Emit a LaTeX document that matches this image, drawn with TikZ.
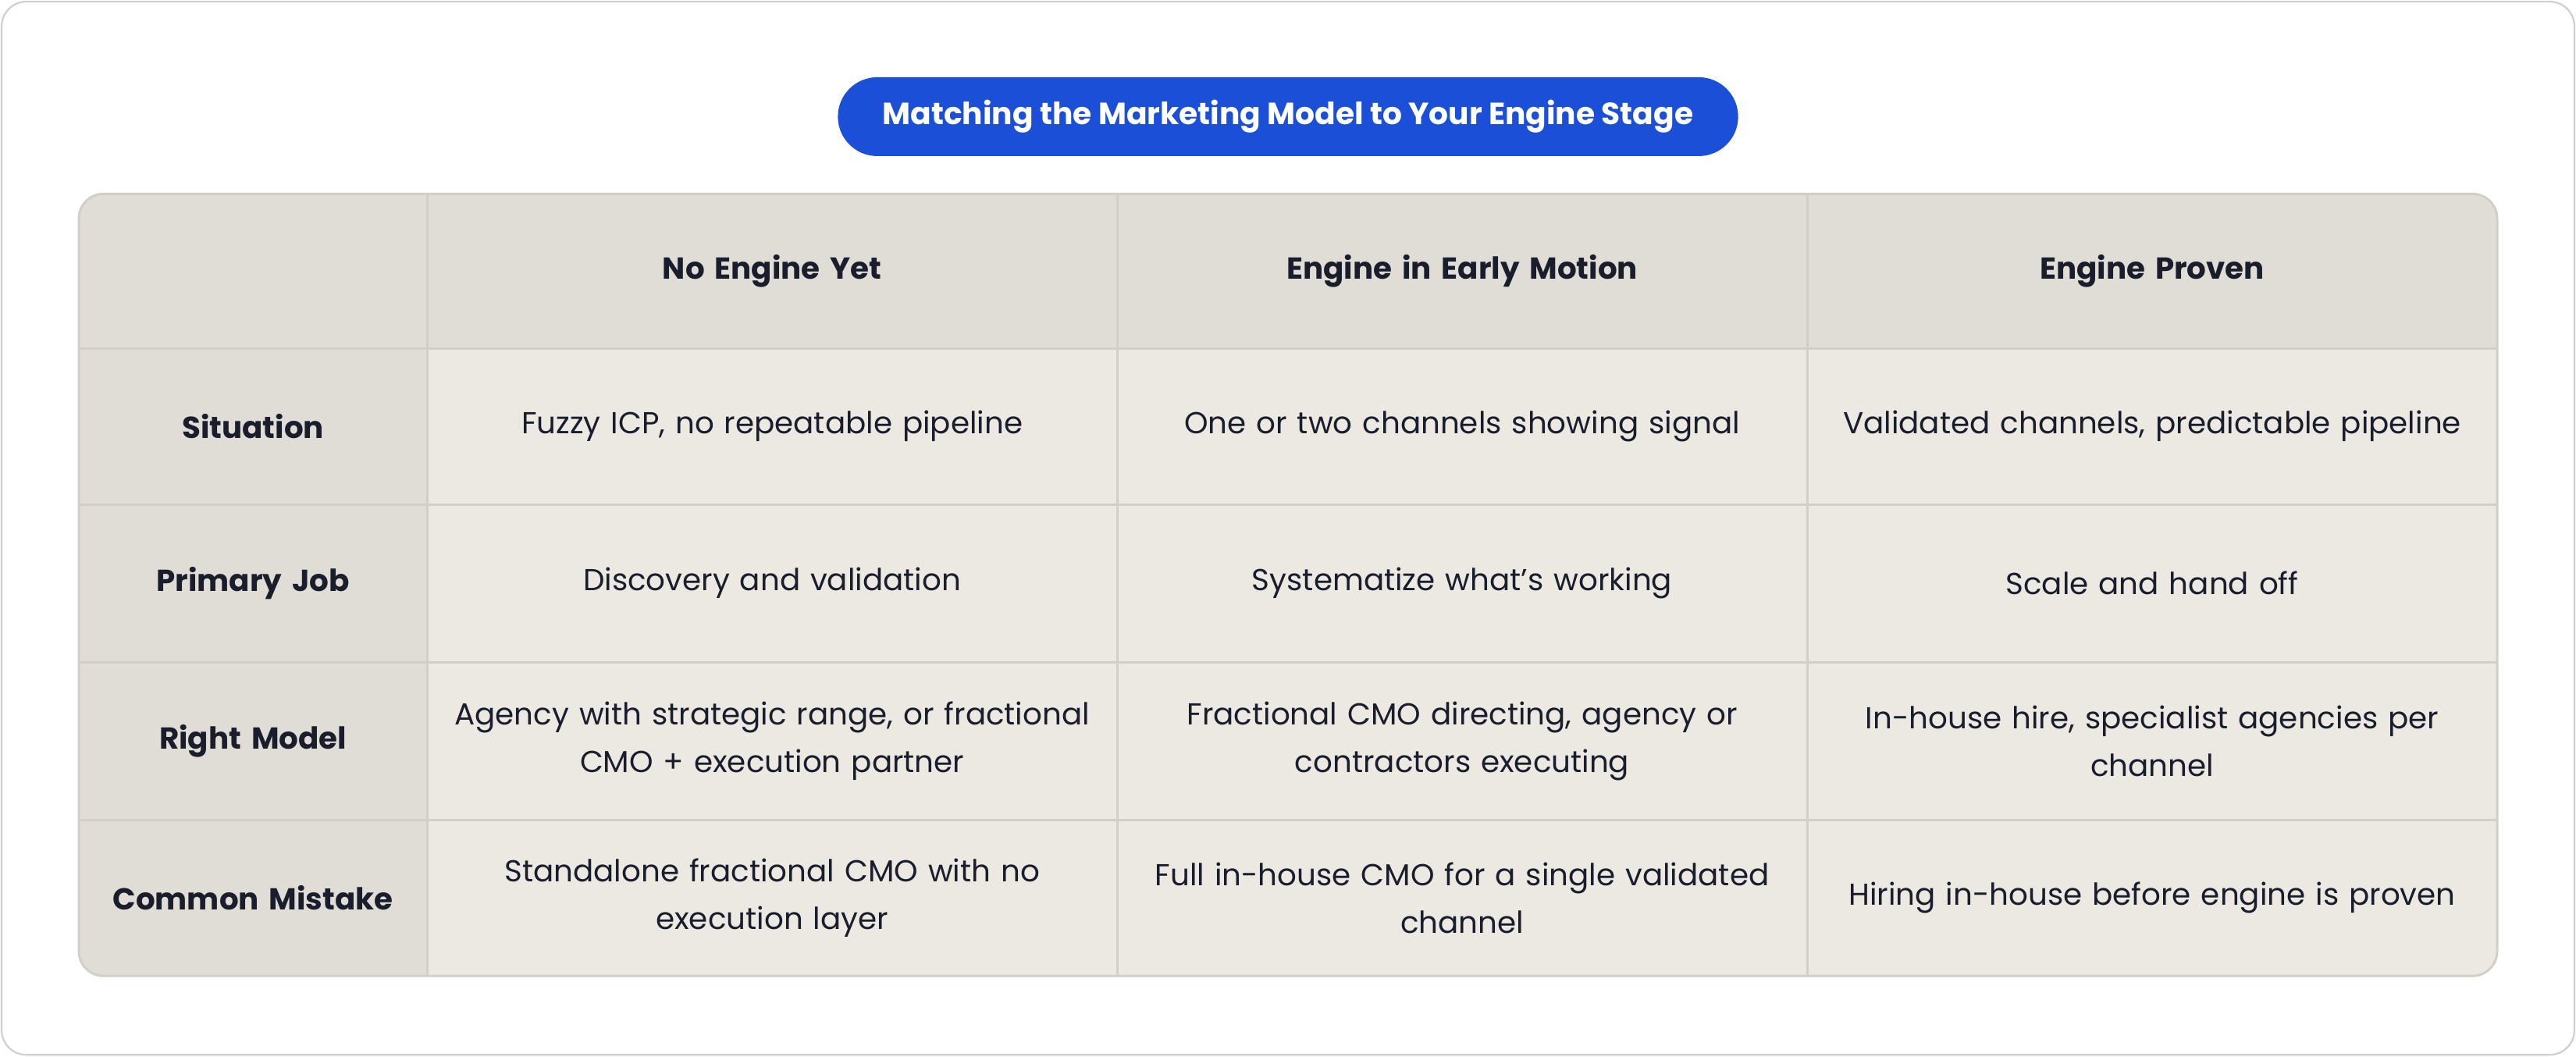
\documentclass[tikz,border=0pt]{standalone}
\usepackage{fontspec}
\setmainfont{Poppins}
\usetikzlibrary{positioning}
\hyphenpenalty=10000
\exhyphenpenalty=10000
\definecolor{pillblue}{HTML}{1B4FD8}
\definecolor{headfill}{HTML}{E0DDD6}
\definecolor{cellfill}{HTML}{ECE9E3}
\definecolor{gridline}{HTML}{D2CFC8}
\definecolor{inkdark}{HTML}{1A1D2B}
\definecolor{frameline}{HTML}{CFCFCF}
\tikzset{
  cell/.style={align=center,text width=8.3cm,font=\fontsize{10.5}{16.5}\selectfont,text=inkdark},
  head/.style={align=center,text width=8.3cm,font=\fontsize{10.5}{16.5}\selectfont\bfseries,text=inkdark},
  rowhead/.style={align=center,text width=3.8cm,font=\fontsize{10.5}{16.5}\selectfont\bfseries,text=inkdark}
}
\begin{document}
\begin{tikzpicture}[x=0.02cm,y=-0.02cm]
   \useasboundingbox (0,0) rectangle (1568,643);
   \draw[frameline,fill=white,rounded corners=0.3cm,line width=0.6pt] (1,1) rectangle (1567,642);
   % title
   \node[fill=pillblue,rounded corners=0.48cm,minimum width=548*0.02cm,minimum height=48*0.02cm,
     text=white,font=\fontsize{10.6}{13}\selectfont\bfseries] (title) at (784,71) {Matching the Marketing Model to Your Engine Stage};
   % table body
   \begin{scope}
    \clip[rounded corners=0.3cm] (48,118) rectangle (1520,594);
    \fill[cellfill] (48,118) rectangle (1520,594);
    \fill[headfill] (48,118) rectangle (1520,212);
    \fill[headfill] (48,118) rectangle (260,594);
    \foreach \y in {212,307,403,499} \draw[gridline,line width=0.8pt] (48,\y) -- (1520,\y);
    \foreach \x in {260,680,1100} \draw[gridline,line width=0.8pt] (\x,118) -- (\x,594);
   \end{scope}
   \draw[gridline,rounded corners=0.3cm,line width=0.8pt] (48,118) rectangle (1520,594);
   % header
   \node[head] (c1) at (470,165) {No Engine Yet};
   \node[head] (c2) at (890,165) {Engine in Early Motion};
   \node[head] (c3) at (1310,165) {Engine Proven};
   % situation
   \node[rowhead] (r1) at (154,259.5) {Situation};
   \node[cell] (r1c1) at (470,259.5) {Fuzzy ICP, no repeatable pipeline};
   \node[cell] (r1c2) at (890,259.5) {One or two channels showing signal};
   \node[cell] (r1c3) at (1310,259.5) {Validated channels, predictable pipeline};
   % primary job
   \node[rowhead] (r2) at (154,355) {Primary Job};
   \node[cell] (r2c1) at (470,355) {Discovery and validation};
   \node[cell] (r2c2) at (890,355) {Systematize what's working};
   \node[cell] (r2c3) at (1310,355) {Scale and hand off};
   % right model
   \node[rowhead] (r3) at (154,451) {Right Model};
   \node[cell] (r3c1) at (470,451) {Agency with strategic range, or fractional\\CMO + execution partner};
   \node[cell] (r3c2) at (890,451) {Fractional CMO directing, agency or\\contractors executing};
   \node[cell] (r3c3) at (1310,451) {In-house hire, specialist agencies per\\channel};
   % common mistake
   \node[rowhead] (r4) at (154,546.5) {Common Mistake};
   \node[cell] (r4c1) at (470,546.5) {Standalone fractional CMO with no\\execution layer};
   \node[cell] (r4c2) at (890,546.5) {Full in-house CMO for a single validated\\channel};
   \node[cell] (r4c3) at (1310,546.5) {Hiring in-house before engine is proven};
\end{tikzpicture}
\end{document}
